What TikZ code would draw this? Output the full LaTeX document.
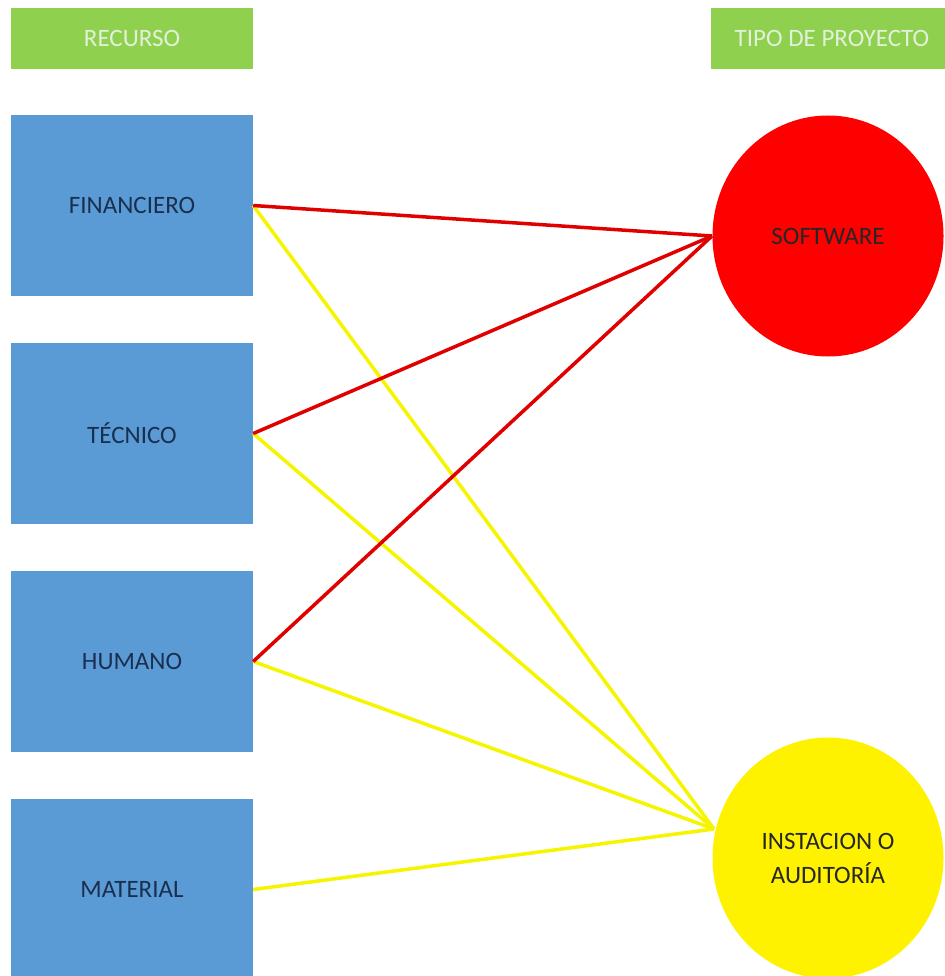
\documentclass[tikz,border=0pt]{standalone}
\usepackage{fontspec}
\setmainfont{Carlito}
\usetikzlibrary{shapes.geometric}
\definecolor{hdrgreen}{HTML}{8FD14F}
\definecolor{hdrtext}{HTML}{E2F0D9}
\definecolor{boxblue}{HTML}{5B9BD5}
\definecolor{boxtext}{HTML}{1A2F4F}
\definecolor{linkred}{HTML}{E00000}
\definecolor{linkyellow}{HTML}{F5F500}
\begin{document}
\begin{tikzpicture}[x=1pt,y=-1pt,
  header/.style={fill=hdrgreen, text=hdrtext, inner sep=0pt, font=\fontsize{25}{30}\selectfont},
  resbox/.style={fill=boxblue, text=boxtext, minimum width=242pt, minimum height=181pt, inner sep=0pt, font=\fontsize{25}{30}\selectfont},
  proj/.style={ellipse, inner sep=0pt, minimum width=231pt, minimum height=241pt, text=black!85, font=\fontsize{25}{34}\selectfont, align=center},
  redlink/.style={draw=linkred, line width=3.5pt},
  yellink/.style={draw=linkyellow, line width=3.5pt}]
\useasboundingbox (0,0) rectangle (944,976);
% column headers
\node[header, minimum width=242pt, minimum height=61pt] (hres) at (132,38.5) {RECURSO};
\node[header, minimum width=242pt, minimum height=61pt] (hproj) at (832,38.5) {TIPO DE PROYECTO};
% resources
\node[resbox] (fin) at (132,205.5) {FINANCIERO};
\node[resbox] (tec) at (132,433.5) {TÉCNICO};
\node[resbox] (hum) at (132,661.5) {HUMANO};
\node[resbox] (mat) at (132,889.5) {MATERIAL};
% project types
\node[proj, fill=red] (sw) at (828,236) {SOFTWARE};
\node[proj, fill=yellow] (aud) at (828,858) {INSTACION O\\AUDITORÍA};
% links
\coordinate (swin) at (712,236);
\coordinate (audin) at (714,829);
\draw[yellink] (fin.east) -- (audin);
\draw[yellink] (tec.east) -- (audin);
\draw[yellink] (hum.east) -- (audin);
\draw[yellink] (mat.east) -- (audin);
\draw[redlink] (fin.east) -- (swin);
\draw[redlink] (tec.east) -- (swin);
\draw[redlink] (hum.east) -- (swin);
\end{tikzpicture}
\end{document}
